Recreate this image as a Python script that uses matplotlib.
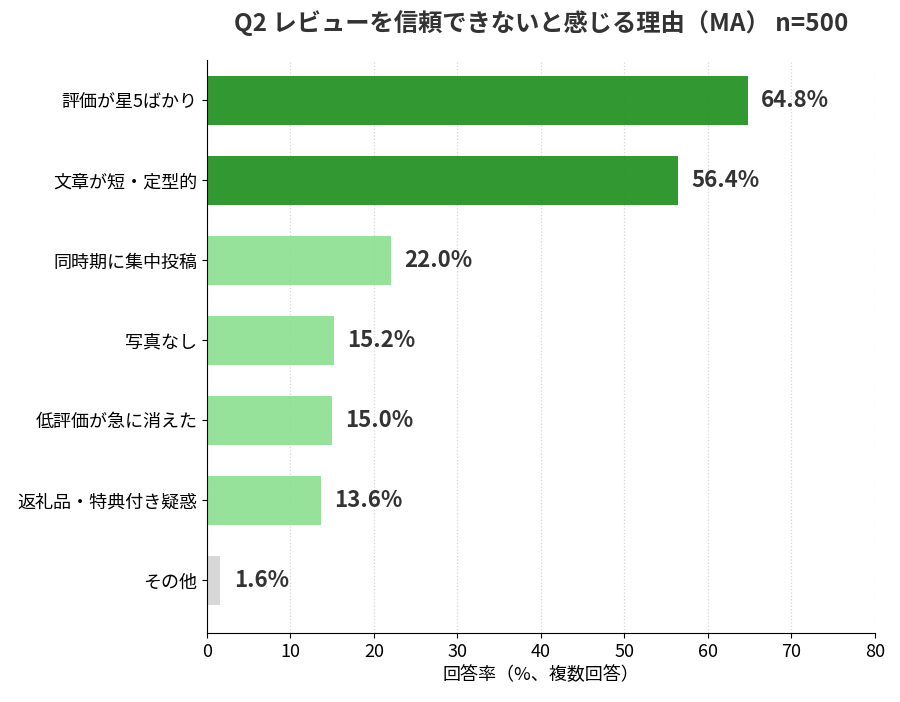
import matplotlib
matplotlib.use("Agg")
import matplotlib.pyplot as plt

plt.rcParams['font.family'] = ['Noto Sans CJK JP', 'DejaVu Sans']

# data
categories = ["評価が星5ばかり", "文章が短・定型的", "同時期に集中投稿", "写真なし",
              "低評価が急に消えた", "返礼品・特典付き疑惑", "その他"]
values = [64.8, 56.4, 22.0, 15.2, 15.0, 13.6, 1.6]
colors = ["#1C8E1C", "#1C8E1C", "#8BDF90", "#8BDF90", "#8BDF90", "#8BDF90", "#D3D3D3"]

fig, ax = plt.subplots(figsize=(9, 7.02), dpi=100)
fig.subplots_adjust(left=0.23, right=0.972, top=0.915, bottom=0.098)

ypos = range(len(categories))
ax.barh(ypos, values, height=0.62, color=colors, alpha=0.9, zorder=1)

for y, v in zip(ypos, values):
    ax.text(v + 1.6, y, f"{v:.1f}%", va="center", ha="left",
            fontsize=16, fontweight="bold", color="#333333")

ax.set_yticks(list(ypos))
ax.set_yticklabels(categories, fontsize=13)
ax.set_ylim(6.66, -0.51)
ax.set_xlim(0, 80)
ax.set_xticks(range(0, 81, 10))
ax.tick_params(axis='x', labelsize=13)
ax.set_xlabel("回答率（%、複数回答）", fontsize=13)

ax.set_axisbelow(True)
ax.grid(axis='x', linestyle=':', color='#d5d5d5', linewidth=0.9)
for s in ["top", "right"]:
    ax.spines[s].set_visible(False)

ax.set_title("Q2 レビューを信頼できないと感じる理由（MA） n=500",
             fontsize=17.5, fontweight="bold", color="#333333", pad=21)

plt.savefig("out.png", dpi=100)
